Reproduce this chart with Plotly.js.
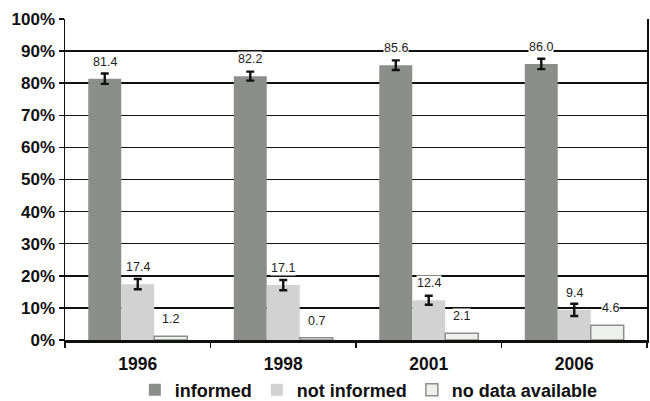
<!DOCTYPE html>
<html>
<head>
<meta charset="utf-8">
<script src="https://cdn.plot.ly/plotly-3.0.1.min.js"></script>
<style>html,body{margin:0;padding:0;background:#fff;}#chart{width:650px;height:401px;}</style>
</head>
<body>
<div id="chart"></div>
<script>
const years = ['1996', '1998', '2001', '2006'];
const informed = [81.4, 82.2, 85.6, 86.0];
const notInformed = [17.4, 17.1, 12.4, 9.4];
const noData = [1.2, 0.7, 2.1, 4.6];
const informedErr = [1.6, 1.4, 1.5, 1.6];
const notInformedErr = [1.6, 1.6, 1.4, 1.9];
const yTicks = [0, 10, 20, 30, 40, 50, 60, 70, 80, 90, 100];

const font = 'Liberation Sans, Arial, Helvetica, sans-serif';

const traces = [
  {type: 'bar', name: 'informed', x: years, y: informed,
   marker: {color: '#8c8e8c'},
   error_y: {type: 'data', array: informedErr, visible: true, color: '#111', thickness: 2.4, width: 4}},
  {type: 'bar', name: 'not informed', x: years, y: notInformed,
   marker: {color: '#d2d2d2'},
   error_y: {type: 'data', array: notInformedErr, visible: true, color: '#111', thickness: 2.4, width: 4}},
  {type: 'bar', name: 'no data available', x: years, y: noData,
   marker: {color: '#eef0ee', line: {color: '#8c8e8c', width: 1.5}}}
];

const series = [informed, notInformed, noData];
const shifts = [-33, 0, 33];
const annotations = [];
series.forEach((arr, si) => {
  arr.forEach((v, i) => {
    annotations.push({
      x: i, y: v, xref: 'x', yref: 'y',
      text: v.toFixed(1), showarrow: false,
      xshift: shifts[si] + (si === 2 && i === 3 ? 3 : 0), yshift: 17,
      bgcolor: '#ffffff', borderpad: 0,
      font: {family: font, size: 12.5, color: '#222'}
    });
  });
});

const layout = {
  width: 650, height: 401,
  margin: {l: 65, r: 3, t: 19, b: 61, autoexpand: false},
  paper_bgcolor: '#fff', plot_bgcolor: '#fff',
  barmode: 'group', bargap: 0.32, bargroupgap: 0,
  showlegend: true,
  legend: {orientation: 'h', x: 0.12, xanchor: 'left', yref: 'container', y: 0.027, yanchor: 'middle',
           bgcolor: 'rgba(0,0,0,0)',
           font: {family: font, size: 18, color: '#111', weight: 'bold'}, traceorder: 'normal',
           itemwidth: 30, tracegroupgap: 0},
  xaxis: {
    type: 'category', range: [-0.5, 3.5], tickson: 'boundaries', ticks: 'outside', ticklen: 5, tickcolor: '#111', tickwidth: 1.5,
    showline: true, linecolor: '#111', linewidth: 3, ticklabelstandoff: 6,
    tickfont: {family: font, size: 17.5, color: '#111', weight: 'bold'},
    showgrid: false
  },
  yaxis: {
    range: [0, 100], tickvals: yTicks, ticktext: yTicks.map(t => t + '%'),
    showgrid: true, gridcolor: '#111', gridwidth: 1.5,
    ticks: 'outside', ticklen: 5, tickcolor: '#111', tickwidth: 1.5,
    showline: true, linecolor: '#111', linewidth: 1.5, mirror: true,
    zeroline: false,
    tickfont: {family: font, size: 17, color: '#111', weight: 'bold'}
  },
  annotations: annotations
};

Plotly.newPlot('chart', traces, layout, {displayModeBar: false, staticPlot: true});
</script>
</body>
</html>
